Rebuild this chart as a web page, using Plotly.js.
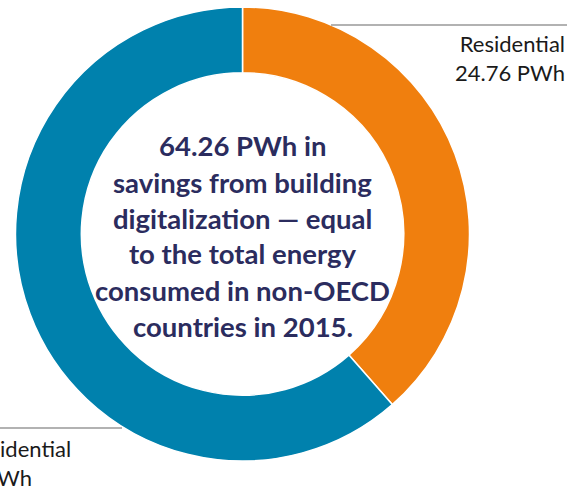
<!DOCTYPE html>
<html>
<head>
<meta charset="utf-8">
<script src="https://cdn.plot.ly/plotly-3.0.1.min.js"></script>
<style>html,body{margin:0;padding:0;background:#fff;}#chart{width:581px;height:487px;}</style>
</head>
<body>
<div id="chart"></div>
<script>
var categories = ["Residential", "Non-residential"];
var values = [24.76, 39.50];
var unit = "PWh";
var colors = ["#f07f0e", "#0081ad"];
var centerLines = ["64.26 PWh in", "savings from building", "digitalization \u2014 equal", "to the total energy", "consumed in non-OECD", "countries in 2015."];

var W = 581, H = 487;
var cx = 242.5, cy = 234, R = 227;

var trace = {
  type: "pie",
  labels: categories,
  values: values,
  sort: false,
  direction: "clockwise",
  rotation: 0,
  hole: 0.71,
  textinfo: "none",
  hoverinfo: "label+value",
  marker: {colors: colors, line: {color: "#ffffff", width: 1.5}},
  domain: {x: [(cx - R) / W, (cx + R) / W], y: [(H - cy - R) / H, (H - cy + R) / H]},
  showlegend: false
};

function fmt(v){ return v.toFixed(2) + " " + unit; }

var labelFont = {family: "Lato, 'Open Sans', sans-serif", size: 22, color: "#1a1a1a"};
var annotations = [
  {xref: "paper", yref: "paper", x: 567 / W, y: 1 - 58.5 / H, xanchor: "right", yanchor: "middle", align: "right",
   text: categories[0] + "<br>" + fmt(values[0]), showarrow: false, font: labelFont},
  {xref: "paper", yref: "paper", x: 73 / W, y: 1 - 463 / H, xanchor: "right", yanchor: "middle", align: "left",
   text: categories[1] + "<br>" + fmt(values[1]), showarrow: false, font: labelFont}
];
var lineY = [145, 182, 218, 254, 290, 326];
centerLines.forEach(function(t, i){
  annotations.push({xref: "paper", yref: "paper", x: cx / W, y: 1 - lineY[i] / H, xanchor: "center", yanchor: "middle",
    text: "<b>" + t + "</b>", showarrow: false,
    font: {family: "Lato, 'Open Sans', sans-serif", size: 27.5, color: "#2b2c5e"}});
});

var shapes = [
  {type: "line", xref: "paper", yref: "paper", x0: 331 / W, x1: 567 / W, y0: 1 - 25 / H, y1: 1 - 25 / H, line: {color: "#666666", width: 1.2}},
  {type: "line", xref: "paper", yref: "paper", x0: 0, x1: 122 / W, y0: 1 - 428 / H, y1: 1 - 428 / H, line: {color: "#666666", width: 1.2}}
];

var layout = {
  width: W, height: H,
  margin: {l: 0, r: 0, t: 0, b: 0},
  paper_bgcolor: "#ffffff",
  annotations: annotations,
  shapes: shapes
};

Plotly.newPlot("chart", [trace], layout, {displayModeBar: false, staticPlot: true});
</script>
</body>
</html>
